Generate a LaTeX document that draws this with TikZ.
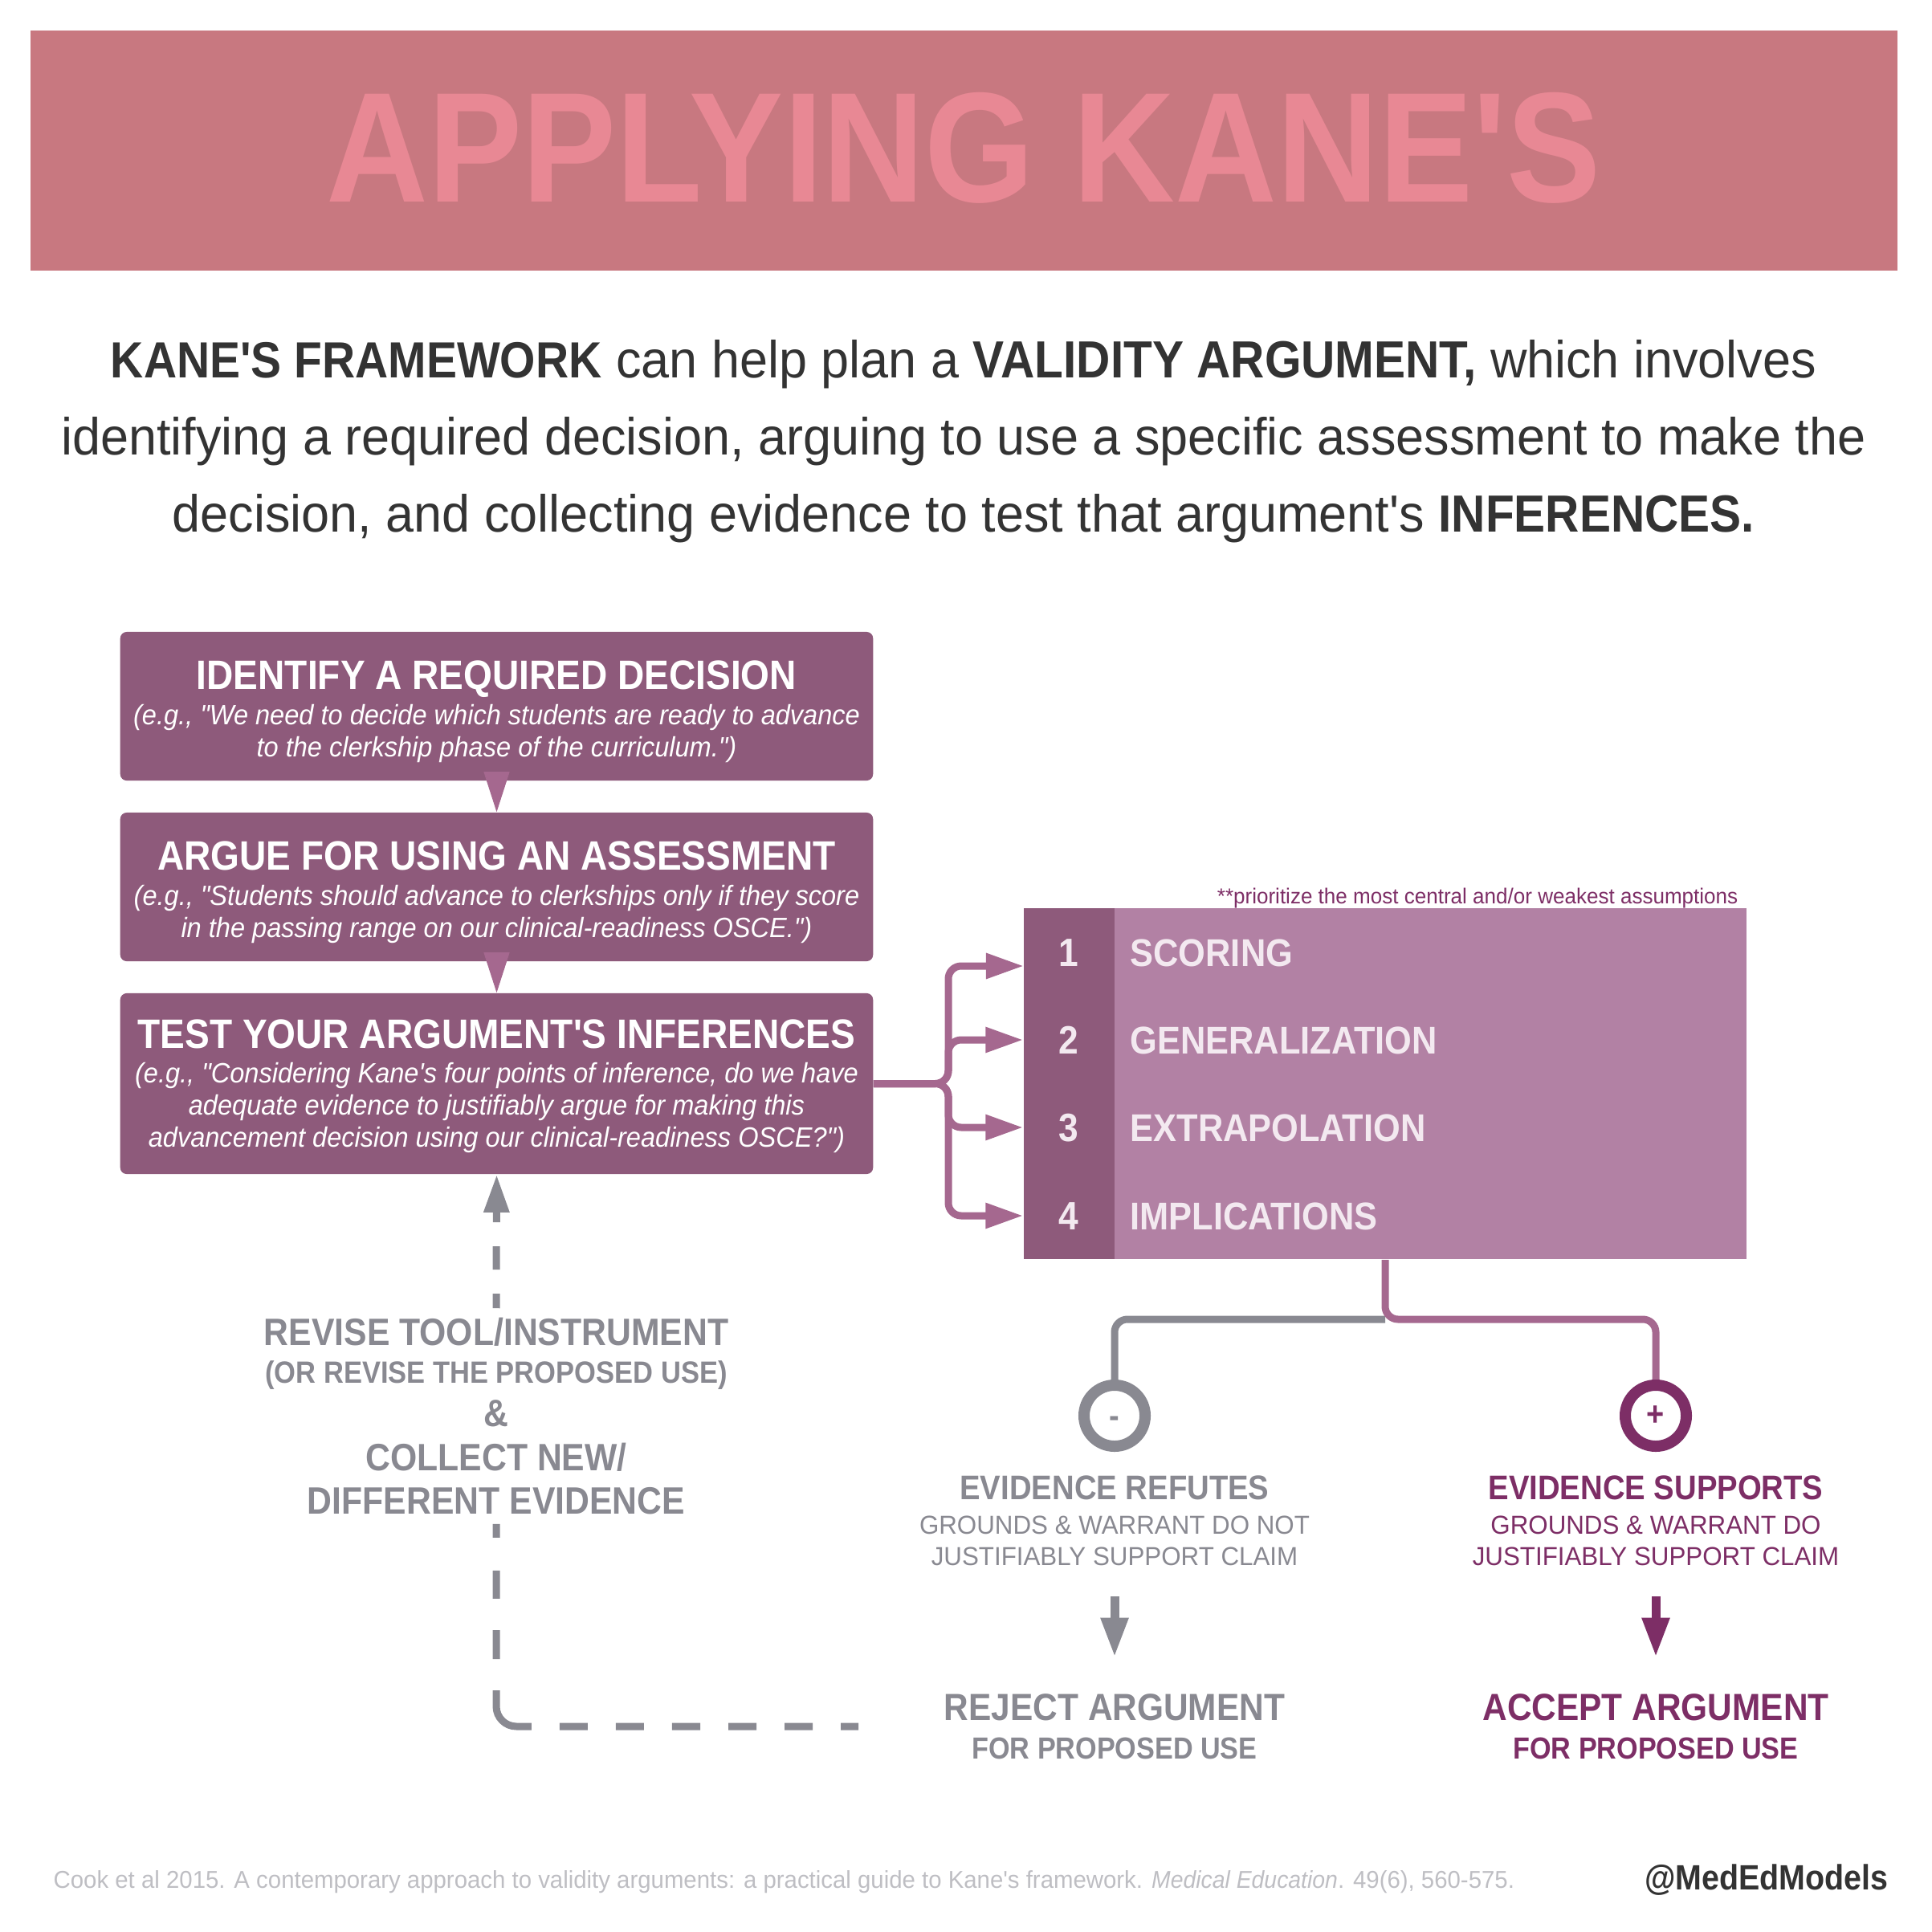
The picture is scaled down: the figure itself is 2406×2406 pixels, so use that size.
\documentclass[tikz,border=0pt]{standalone}
\usepackage{fontspec}
\setmainfont{Liberation Sans}[Ligatures=TeXOff, FakeStretch=0.968, BoldFeatures={FakeStretch=0.9}, ItalicFeatures={FakeStretch=0.935}]
\usetikzlibrary{arrows.meta,positioning,calc}
\definecolor{bannerrose}{RGB}{200,120,128}
\definecolor{titlerose}{RGB}{232,136,148}
\definecolor{inkdark}{RGB}{51,51,51}
\definecolor{boxplum}{RGB}{142,90,123}
\definecolor{tablelilac}{RGB}{178,129,164}
\definecolor{linkplum}{RGB}{165,104,143}
\definecolor{deepplum}{RGB}{125,46,102}
\definecolor{slategrey}{RGB}{137,137,145}
\definecolor{paleink}{RGB}{243,233,240}
\definecolor{footgrey}{RGB}{190,190,195}
\newcommand{\boxtitle}[1]{{\fontsize{14.55}{16}\selectfont\bfseries\upshape\rule{0pt}{13.9pt}#1}}

\begin{document}
\begin{tikzpicture}[x=0.01cm,y=-0.01cm, >=Latex]
  \tikzstyle{stepbox}=[rectangle, rounded corners=0.08cm, fill=boxplum, text=white, minimum width=9.37cm, align=center, inner sep=0pt, font=\fontsize{9.9}{11.3}\selectfont\itshape]
  \tikzstyle{rowlabel}=[anchor=west, inner sep=0pt, text=paleink, text height=0.34cm, text depth=0pt, font=\fontsize{13.7}{15}\selectfont\bfseries]
  \tikzstyle{rownum}=[inner sep=0pt, text=paleink, text height=0.34cm, text depth=0pt, font=\fontsize{14}{15}\selectfont\bfseries]
  \tikzstyle{outcome}=[inner sep=0pt, align=center, minimum height=1.3cm, font=\fontsize{9.2}{11.1}\selectfont]
  \tikzstyle{verdict}=[inner sep=0pt, align=center, minimum width=4.4cm, minimum height=0.95cm, font=\fontsize{10.8}{13}\selectfont\bfseries]
  \tikzstyle{link}=[draw=linkplum, line width=0.09cm, rounded corners=0.16cm]
  \tikzstyle{greylink}=[draw=slategrey, line width=0.09cm]
  \tikzstyle{signring}=[circle, fill=white, line width=0.14cm, minimum size=0.76cm, inner sep=0pt, font=\fontsize{12}{12}\selectfont\bfseries]
  \useasboundingbox (0,0) rectangle (2406,2406);

  % banner and intro
  \node[rectangle, fill=bannerrose, minimum width=23.24cm, minimum height=2.98cm, inner sep=0pt] (banner) at (1200.5,187.5) {};
  \node[text=titlerose, inner sep=0pt, font=\fontsize{55.5}{60}\selectfont\bfseries] (title) at (1200,184) {APPLYING KANE'S};
  \node[text=inkdark, align=center, inner sep=0pt, font=\fontsize{18.5}{27.3}\selectfont] (intro) at (1200,550) {{\fontsize{18}{27.3}\selectfont\textbf{KANE'S FRAMEWORK}} can help plan a \textbf{VALIDITY ARGUMENT,} which involves\\identifying a required decision, arguing to use a specific assessment to make the\\decision, and collecting evidence to test that argument's \textbf{INFERENCES.}};

  % left column
  \node[stepbox, minimum height=1.85cm] (decide) at (618.5,879.5) {\boxtitle{IDENTIFY A REQUIRED DECISION}\\[1.1pt](e.g., "We need to decide which students are ready to advance\\to the clerkship phase of the curriculum.")};
  \node[stepbox, minimum height=1.85cm] (argue) at (618.5,1104.5) {\boxtitle{ARGUE FOR USING AN ASSESSMENT}\\[1.1pt](e.g., "Students should advance to clerkships only if they score\\in the passing range on our clinical-readiness OSCE.")};
  \node[stepbox, minimum height=2.25cm] (testbox) at (618.5,1349.5) {\boxtitle{TEST YOUR ARGUMENT'S INFERENCES}\\[1.1pt](e.g., "Considering Kane's four points of inference, do we have\\adequate evidence to justifiably argue for making this\\advancement decision using our clinical-readiness OSCE?")\rule[-4.2pt]{0pt}{0pt}};
  \draw[-{Triangle[length=0.5cm,width=0.32cm]}, draw=linkplum, line width=0.01cm] ([yshift=0.1cm]decide.south) -- (argue.north);
  \draw[-{Triangle[length=0.5cm,width=0.32cm]}, draw=linkplum, line width=0.01cm] ([yshift=0.1cm]argue.south) -- (testbox.north);

  % inference table
  \node[rectangle, fill=tablelilac, minimum width=9cm, minimum height=4.37cm, inner sep=0pt] (table) at (1725,1349.5) {};
  \node[rectangle, fill=boxplum, minimum width=1.13cm, minimum height=4.37cm, inner sep=0pt] (numcol) at (1331.5,1349.5) {};
  \node[text=deepplum, inner sep=0pt, anchor=east, font=\fontsize{7.65}{8}\selectfont] (note) at (2165,1119) {**prioritize the most central and/or weakest assumptions};
  \node[rownum] (num1) at (1331,1186) {1};
  \node[rownum] (num2) at (1331,1295) {2};
  \node[rownum] (num3) at (1331,1404) {3};
  \node[rownum] (num4) at (1331,1514) {4};
  \node[rowlabel] (scoring) at (1407,1186) {SCORING};
  \node[rowlabel] (general) at (1407,1295) {GENERALIZATION};
  \node[rowlabel] (extra) at (1407,1404) {EXTRAPOLATION};
  \node[rowlabel] (implic) at (1407,1514) {IMPLICATIONS};
  \coordinate (bus) at (1181,1349.5);
  \coordinate (scoringin) at (1275,1203);
  \draw[link, -{Triangle[length=0.47cm,width=0.3cm]}] (testbox.east) -- (bus) |- (scoringin);
  \draw[link, -{Triangle[length=0.47cm,width=0.3cm]}] (testbox.east) -- (bus) |- (numcol.west |- num2);
  \draw[link, -{Triangle[length=0.47cm,width=0.3cm]}] (testbox.east) -- (bus) |- (numcol.west |- num3);
  \draw[link, -{Triangle[length=0.47cm,width=0.3cm]}] (testbox.east) -- (bus) |- (numcol.west |- num4);

  % outcomes
  \node[signring, draw=slategrey, text=slategrey, text height=0.28cm, text depth=0pt] (minus) at (1388,1763) {-};
  \node[signring, draw=deepplum, text=deepplum] (plus) at (2062,1763) {+};
  \coordinate (split) at (1725,1643);
  \draw[greylink, rounded corners=0.16cm] (split) -| (minus);
  \draw[link] (table.south) -- (split) -| (plus);
  \node[outcome, text=slategrey] (refute) at (1388,1894) {{\fontsize{12.1}{14}\selectfont\bfseries EVIDENCE REFUTES}\\[1.2pt]GROUNDS \& WARRANT DO NOT\\JUSTIFIABLY SUPPORT CLAIM};
  \node[outcome, text=deepplum] (support) at (2062,1894) {{\fontsize{12.1}{14}\selectfont\bfseries EVIDENCE SUPPORTS}\\[1.2pt]GROUNDS \& WARRANT DO\\JUSTIFIABLY SUPPORT CLAIM};
  \node[verdict, text=slategrey] (reject) at (1388,2150) {{\fontsize{13.4}{15}\selectfont REJECT ARGUMENT}\\[0.5pt]FOR PROPOSED USE};
  \node[verdict, text=deepplum] (accept) at (2062,2150) {{\fontsize{13.4}{15}\selectfont ACCEPT ARGUMENT}\\[0.5pt]FOR PROPOSED USE};
  \draw[greylink, line width=0.11cm, -{Triangle[length=0.49cm,width=0.32cm]}, shorten <=0.28cm, shorten >=0.38cm] (refute.south) -- (reject.north);
  \draw[draw=deepplum, line width=0.11cm, -{Triangle[length=0.49cm,width=0.32cm]}, shorten <=0.28cm, shorten >=0.38cm] (support.south) -- (accept.north);

  % loop back
  \node[text=slategrey, align=center, inner sep=0pt, minimum height=2.67cm, font=\fontsize{13.5}{15}\selectfont\bfseries] (revise) at (618,1763.5) {REVISE TOOL/INSTRUMENT\\[-1.6pt]{\fontsize{10.9}{13}\selectfont (OR REVISE THE PROPOSED USE)}\\[0.3pt]\&\\[0.6pt]COLLECT NEW/\\[0.5pt]DIFFERENT EVIDENCE};
  \draw[greylink, rounded corners=0.25cm, dash pattern=on 0.22cm off 0.35cm on 0.35cm off 0.35cm on 0.35cm off 0.35cm on 0.35cm off 0.35cm on 0.35cm off 0.35cm on 0.35cm off 0.35cm on 0.78cm off 0.39cm on 0.36cm off 0.39cm on 0.35cm off 0.41cm on 0.21cm off 1cm, shorten <=0.98cm] (reject.west) -| (revise.south);
  \draw[greylink, dash pattern=on 0.29cm off 0.3cm, dash phase=0.11cm, -{Triangle[length=0.47cm,width=0.3cm]}] (revise.north) -- (testbox.south);

  % footer
  \node[text=footgrey, anchor=west, inner sep=0pt, font=\fontsize{8.63}{10}\selectfont] (cite) at (66,2344) {Cook et al 2015. A contemporary approach to validity arguments: a practical guide to Kane's framework. \textit{Medical Education}. 49(6), 560-575.};
  \node[text=inkdark, anchor=east, inner sep=0pt, font=\fontsize{12.45}{14}\selectfont\bfseries] (handle) at (2352,2341) {@MedEdModels};
\end{tikzpicture}
\end{document}
